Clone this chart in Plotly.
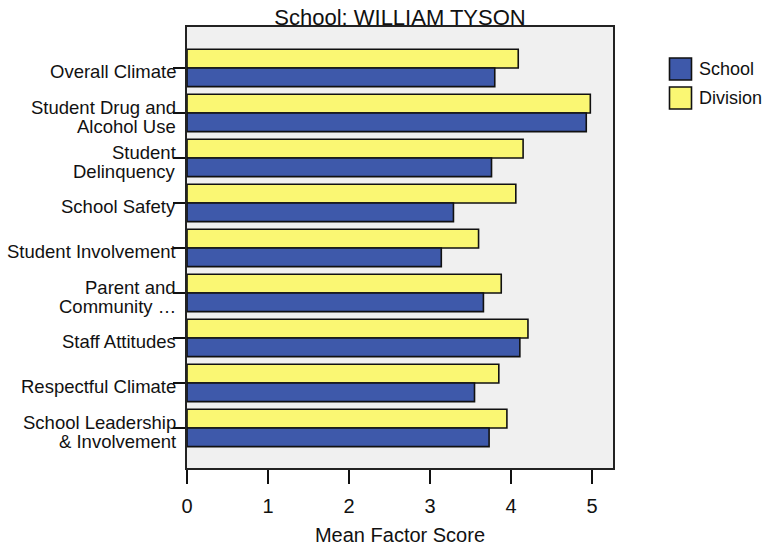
import plotly.graph_objects as go

categories = [
    "Overall Climate",
    "Student Drug and<br>Alcohol Use",
    "Student<br>Delinquency",
    "School Safety",
    "Student Involvement",
    "Parent and<br>Community …",
    "Staff Attitudes",
    "Respectful Climate",
    "School Leadership<br>& Involvement",
]
school = [3.80, 4.93, 3.76, 3.29, 3.14, 3.66, 4.11, 3.55, 3.73]
division = [4.09, 4.98, 4.15, 4.06, 3.60, 3.88, 4.21, 3.85, 3.95]
series_names = ["School", "Division"]
x_ticks = [0, 1, 2, 3, 4, 5]

BLUE = "#3E59AA"
YELLOW = "#FAF773"
FONT = "Liberation Sans, Arial, sans-serif"
INK = "#111111"

fig = go.Figure()
fig.add_trace(go.Bar(y=categories, x=division, orientation="h", name=series_names[1],
                     marker=dict(color=YELLOW, line=dict(color=INK, width=1.6)),
                     showlegend=False))
fig.add_trace(go.Bar(y=categories, x=school, orientation="h", name=series_names[0],
                     marker=dict(color=BLUE, line=dict(color=INK, width=1.6)),
                     showlegend=False))

W, H = 769, 550
L, R, T, B = 187, 156, 27, 82
pw, ph = W - L - R, H - T - B

def px2x(px):
    return (px - L) / pw

def py2y(py):
    return (H - B - py) / ph

shapes = []
annotations = []

# legend drawn as squares + labels
legend_items = [(series_names[0], BLUE, 58), (series_names[1], YELLOW, 87)]
for name, col, top in legend_items:
    shapes.append(dict(type="rect", xref="paper", yref="paper",
                       x0=px2x(669.5), x1=px2x(691.5), y0=py2y(top + 22), y1=py2y(top),
                       fillcolor=col, line=dict(color=INK, width=1.6)))
    annotations.append(dict(xref="paper", yref="paper", x=px2x(697), y=py2y(top + 11),
                            xanchor="left", yanchor="middle", text=name, showarrow=False,
                            font=dict(family=FONT, size=18, color=INK)))

# category labels (one annotation per text line, tight line spacing)
for cat in categories:
    lines = cat.split("<br>")
    shifts = [-4] if len(lines) == 1 else [5, -14]
    for line, ys in zip(lines, shifts):
        annotations.append(dict(xref="paper", yref="y", x=px2x(178), y=cat,
                                xanchor="right", yanchor="middle", yshift=ys,
                                text=line, showarrow=False,
                                font=dict(family=FONT, size=18.5, color=INK)))

fig.update_layout(
    width=W, height=H,
    margin=dict(l=L, r=R, t=T, b=B, autoexpand=False),
    paper_bgcolor="white",
    plot_bgcolor="#F0F0F0",
    barmode="group",
    bargap=0.17,
    bargroupgap=0,
    title=dict(text="School: WILLIAM TYSON", x=(L + pw / 2) / W, xanchor="center",
               y=1 - 17.5 / H, yanchor="middle",
               font=dict(family=FONT, size=22, color=INK)),
    font=dict(family=FONT, color=INK),
    shapes=shapes,
    annotations=annotations,
    showlegend=False,
)
fig.update_xaxes(range=[0, 5.26], tickvals=x_ticks, ticktext=[str(v) for v in x_ticks],
                 ticks="outside", ticklen=14, tickwidth=1.5, tickcolor=INK,
                 showgrid=False, zeroline=False, showline=True, mirror=True,
                 linecolor="#222222", linewidth=1.5,
                 tickfont=dict(family=FONT, size=20, color=INK),
                 ticklabelstandoff=5,
                 title=dict(text="Mean Factor Score", standoff=12,
                            font=dict(family=FONT, size=20, color=INK)),
                 automargin=False)
fig.update_yaxes(type="category", range=[8.89, -0.91],
                 ticks="outside", ticklen=12, tickwidth=1.5, tickcolor=INK,
                 showticklabels=False,
                 showgrid=False, zeroline=False, showline=True, mirror=True,
                 linecolor="#222222", linewidth=1.5,
                 automargin=False)

fig.write_html("out.html", config={"displayModeBar": False},
               post_script="document.body.style.margin='0px';")
